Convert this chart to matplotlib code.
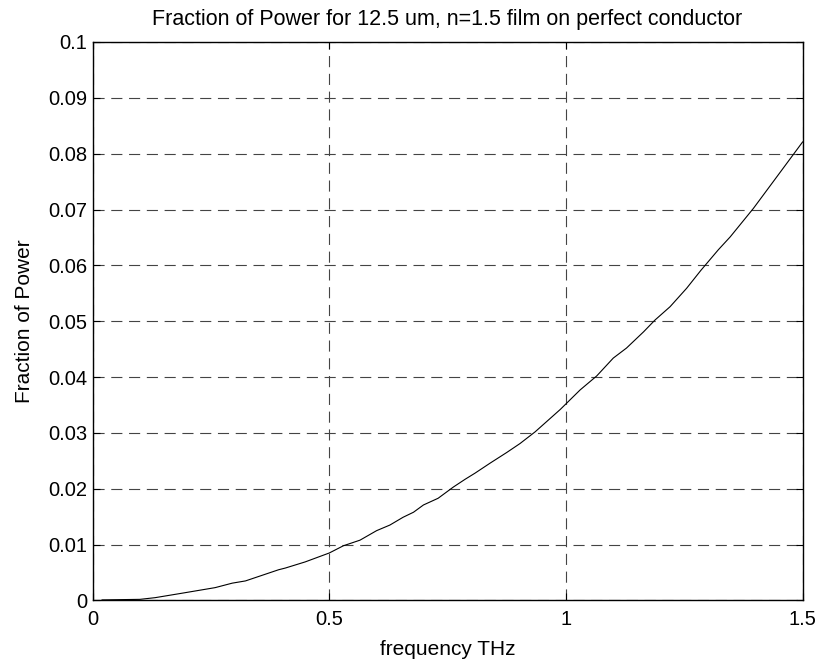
import matplotlib
matplotlib.use("Agg")
import matplotlib.pyplot as plt

plt.rcParams['font.family'] = ['Liberation Sans', 'DejaVu Sans']

freq_thz = [0.02, 0.10, 0.132, 0.189, 0.21, 0.259, 0.295, 0.323, 0.344, 0.393, 0.407,
            0.449, 0.50, 0.53, 0.565, 0.60, 0.628, 0.656, 0.678, 0.699, 0.73, 0.762,
            0.787, 0.808, 0.84, 0.875, 0.903, 0.935, 0.988, 1.03, 1.065, 1.10, 1.128,
            1.164, 1.188, 1.22, 1.255, 1.285, 1.322, 1.347, 1.396, 1.438, 1.50]
fraction = [0.0001, 0.0002, 0.0005, 0.0013, 0.0016, 0.0023, 0.0031, 0.0035, 0.0041, 0.0055, 0.0058,
            0.0069, 0.0085, 0.0098, 0.0108, 0.0125, 0.0135, 0.0149, 0.0158, 0.0171, 0.0183, 0.0203,
            0.0217, 0.0228, 0.0246, 0.0265, 0.0281, 0.0302, 0.0342, 0.0377, 0.0402, 0.0434, 0.0452,
            0.0481, 0.0502, 0.0526, 0.0559, 0.0591, 0.0628, 0.0651, 0.0702, 0.0750, 0.0821]

x_ticks = [0, 0.5, 1, 1.5]
x_tick_labels = ['0', '0.5', '1', '1.5']
y_ticks = [0, 0.01, 0.02, 0.03, 0.04, 0.05, 0.06, 0.07, 0.08, 0.09, 0.1]
y_tick_labels = ['0', '0.01', '0.02', '0.03', '0.04', '0.05', '0.06', '0.07', '0.08', '0.09', '0.1']

fig = plt.figure(figsize=(8.2, 6.6), dpi=100)
ax = fig.add_axes([0.1129, 0.0902, 0.8659, 0.8462])
ax.plot(freq_thz, fraction, color='black', lw=0.8)
ax.set_xlim(0, 1.5)
ax.set_ylim(0, 0.1)
ax.set_xticks(x_ticks)
ax.set_xticklabels(x_tick_labels)
ax.set_yticks(y_ticks)
ax.set_yticklabels(y_tick_labels)
ax.tick_params(direction='in', length=5, width=0.8, labelsize=14.5, top=True, right=True)
ax.tick_params(axis='x', pad=7)
ax.tick_params(axis='y', pad=4)
ax.grid(True, color='#444444', linestyle=(0, (10, 6)), lw=0.8)
for s in ax.spines.values():
    s.set_linewidth(1.0)
ax.set_title('Fraction of Power for 12.5 um, n=1.5 film on perfect conductor', fontsize=15.5, pad=12)
ax.set_xlabel('frequency THz', fontsize=15, labelpad=8)
ax.set_ylabel('Fraction of Power', fontsize=15, labelpad=10)
fig.savefig('out.png', dpi=100)
